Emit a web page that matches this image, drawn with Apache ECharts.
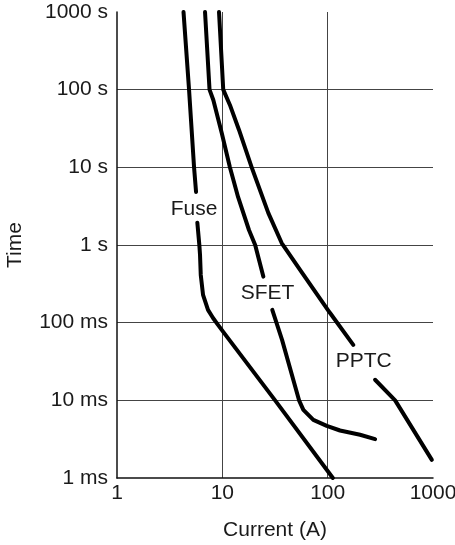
<!DOCTYPE html>
<html>
<head>
<meta charset="utf-8">
<script src="https://cdn.jsdelivr.net/npm/echarts@6/dist/echarts.min.js"></script>
<style>
html,body{margin:0;padding:0;background:#fff;}
#chart{width:455px;height:545px;}
</style>
</head>
<body>
<div id="chart"></div>
<script>
// X ticks (current, A) and Y ticks (time, s)
var xTickLabels = ['1', '10', '100', '1000'];
var yTickLabels = ['1 ms', '10 ms', '100 ms', '1 s', '10 s', '100 s', '1000 s'];

// Curves: [current (A), time (s)]; each curve split where its label interrupts it
var fuseUpper = [[4.28, 1000], [4.83, 100], [5.39, 10], [5.63, 4.82]];
var fuseLower = [[5.79, 1.94], [6.05, 1.0], [6.14, 0.746], [6.24, 0.412], [6.56, 0.228], [7.31, 0.146], [8.16, 0.115], [9.1, 0.0938], [10.2, 0.0762], [31.7, 0.01], [112, 0.001]];

var sfetUpper = [[6.85, 1000], [7.56, 100], [8.21, 73.6], [9.87, 27.7], [11.8, 10], [14.1, 4.16], [17.9, 1.56], [20.5, 1.0], [24.5, 0.392]];
var sfetLower = [[29.8, 0.146], [36.9, 0.060], [53.5, 0.01], [58.8, 0.00755], [73.1, 0.00561], [98, 0.0047], [131, 0.00409], [203, 0.0036], [282, 0.00317]];

var pptcUpper = [[9.3, 1000], [10.2, 100], [11.8, 63.6], [14.4, 30.3], [19.0, 10], [27.3, 2.59], [36.6, 1.06], [54.7, 0.478], [105, 0.134], [175, 0.0518]];
var pptcLower = [[282, 0.0184], [437, 0.01], [975, 0.00171]];

// Curve labels: [current, time, text]
var curveLabels = [[5.44, 2.83, 'Fuse'], [27.2, 0.235, 'SFET'], [222, 0.0316, 'PPTC']];

var FONT = '"Liberation Sans", Arial, Helvetica, sans-serif';
var TXT = '#1a1a1a';
var FS = 21;

function lineSeries(data) {
  return {
    type: 'line', data: data, symbol: 'none', smooth: false,
    lineStyle: { color: '#000', width: 4, cap: 'round', join: 'round' },
    silent: true, animation: false, clip: true
  };
}

var chart = echarts.init(document.getElementById('chart'), null, { renderer: 'canvas' });
chart.setOption({
  backgroundColor: '#fff',
  animation: false,
  grid: { left: 117, right: 22, top: 12, bottom: 67, containLabel: false, outerBoundsMode: 'none' },
  xAxis: {
    type: 'log', logBase: 10, min: 1, max: 1000,
    name: 'Current (A)', nameLocation: 'middle', nameGap: 42,
    nameTextStyle: { fontSize: FS, color: TXT, fontFamily: FONT },
    axisLine: { show: true, lineStyle: { color: '#111', width: 1.5 } },
    axisTick: { show: false },
    axisLabel: {
      fontSize: FS, color: TXT, fontFamily: FONT, margin: 5,
      formatter: function (v) { return xTickLabels[Math.round(Math.log10(v))]; }
    },
    splitLine: { show: true, showMinLine: false, showMaxLine: false, lineStyle: { color: '#444', width: 1 } },
    minorTick: { show: false }, minorSplitLine: { show: false }
  },
  yAxis: {
    type: 'log', logBase: 10, min: 0.001, max: 1000,
    name: 'Time', nameLocation: 'middle', nameGap: 91, nameRotate: 90,
    nameTextStyle: { fontSize: FS, color: TXT, fontFamily: FONT },
    axisLine: { show: true, lineStyle: { color: '#111', width: 1.5 } },
    axisTick: { show: false },
    axisLabel: {
      fontSize: FS, color: TXT, fontFamily: FONT, margin: 9,
      formatter: function (v) { return yTickLabels[Math.round(Math.log10(v)) + 3]; }
    },
    splitLine: { show: true, showMinLine: false, showMaxLine: false, lineStyle: { color: '#444', width: 1 } }
  },
  series: [
    lineSeries(fuseUpper), lineSeries(fuseLower),
    lineSeries(sfetUpper), lineSeries(sfetLower),
    lineSeries(pptcUpper), lineSeries(pptcLower),
    {
      type: 'scatter', symbolSize: 1, silent: true, animation: false,
      itemStyle: { opacity: 0 },
      data: curveLabels.map(function (d) { return { value: [d[0], d[1]], name: d[2] }; }),
      label: {
        show: true, position: [0, 0], align: 'center', verticalAlign: 'middle',
        formatter: '{b}', fontSize: FS, color: TXT, fontFamily: FONT,
        textBorderWidth: 0, opacity: 1
      },
      emphasis: { disabled: true }
    }
  ]
});
</script>
</body>
</html>
